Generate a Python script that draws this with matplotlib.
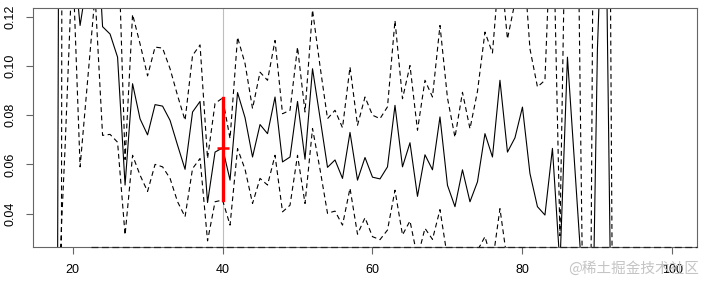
import numpy as np
import matplotlib.pyplot as plt

plt.rcParams['font.family'] = ['Liberation Sans', 'DejaVu Sans']
plt.rcParams['lines.scale_dashes'] = False

# x positions (one point per integer)
x = np.arange(18, 93)

# estimate (solid)
est = [0.018, 1.0, 0.148, 0.1165, 0.136, 0.17, 0.116, 0.113, 0.1036, 0.0516,
       0.0928, 0.0785, 0.072, 0.0843, 0.0837, 0.0779, 0.0678, 0.058, 0.0813, 0.0856,
       0.0445, 0.065, 0.0667, 0.0536, 0.0892, 0.079, 0.063, 0.0762, 0.0725, 0.0874,
       0.061, 0.063, 0.0856, 0.0621, 0.0989, 0.079, 0.0588, 0.0618, 0.0543, 0.073,
       0.0536, 0.0628, 0.0548, 0.0541, 0.059, 0.084, 0.059, 0.0688, 0.047, 0.0639,
       0.0578, 0.0793, 0.0515, 0.0428, 0.0578, 0.0448, 0.0529, 0.0725, 0.063, 0.0942,
       0.065, 0.0708, 0.0833, 0.0563, 0.0428, 0.0394, 0.0665, 0.019, 0.1036, 0.058,
       0.012, -0.074, 0.107, 0.193, -0.05]

# upper band (dashed)
upper = [-1.0, 1.0, 0.3, 0.2, 0.2, 0.3, 0.2, 0.18, 0.16, 0.062,
         0.121, 0.109, 0.096, 0.1077, 0.1073, 0.0989, 0.088, 0.0779, 0.1043, 0.1086,
         0.0624, 0.0848, 0.087, 0.0705, 0.1117, 0.101, 0.0827, 0.0975, 0.0942, 0.1104,
         0.0806, 0.082, 0.1077, 0.0813, 0.1228, 0.1, 0.0786, 0.082, 0.0749, 0.0996,
         0.0759, 0.0874, 0.08, 0.0786, 0.0834, 0.1185, 0.0867, 0.1002, 0.0739, 0.0942,
         0.0874, 0.1165, 0.087, 0.071, 0.0893, 0.0745, 0.0897, 0.1138, 0.1053, 0.143,
         0.111, 0.126, 0.15, 0.107, 0.0915, 0.0942, 0.173, 0.031, 0.214, 0.26,
         0.015, -0.05, 0.43, 0.5, 0.0]

# lower band (dashed)
lower = [0.0, 0.067, 0.144, 0.059, 0.094, 0.129, 0.0718, 0.0722, 0.069, 0.0313,
         0.0637, 0.0556, 0.049, 0.060, 0.059, 0.0543, 0.0448, 0.0387, 0.0583, 0.0624,
         0.0289, 0.0448, 0.0455, 0.0353, 0.0664, 0.058, 0.0441, 0.0543, 0.0516, 0.0637,
         0.0407, 0.0434, 0.0637, 0.0441, 0.0746, 0.058, 0.0401, 0.041, 0.0353, 0.0503,
         0.0316, 0.0383, 0.0306, 0.0294, 0.0333, 0.0495, 0.0313, 0.037, 0.022, 0.034,
         0.0295, 0.0416, 0.022, 0.016, 0.024, 0.018, 0.025, 0.0306, 0.02, 0.042,
         0.02, 0.022, 0.024, 0.01, -0.005, -0.01, -0.03, -0.02, -0.05, -0.1,
         -0.05, -0.2, -0.1, -0.1, -0.2]

x_range = (18, 100)
y_range = (0.03, 0.12)
x_mark = 40

def pad(r):
    d = (r[1] - r[0]) * 0.04
    return r[0] - d, r[1] + d

fig = plt.figure(figsize=(7.01, 2.81), dpi=100)
ax = fig.add_axes([33 / 701, 34 / 281, 664 / 701, 239 / 281])
ax.set_xlim(*pad(x_range))
ax.set_ylim(*pad(y_range))

ax.axvline(x_mark, color='#bebebe', lw=0.8, zorder=1)
ax.plot(x, est, color='black', lw=0.8, zorder=2)
ax.plot(x, upper, color='black', lw=0.8, dashes=(3.5, 2.5), zorder=2)
ax.plot(x, lower, color='black', lw=0.8, dashes=(3.5, 2.5), zorder=2)

i = list(x).index(x_mark)
ax.plot([x_mark, x_mark], [lower[i], upper[i]], color='red', lw=2.4, zorder=3)
ax.plot([x_mark], [est[i]], marker='+', color='red', ms=8, mew=1.8, zorder=4)

# clipped bands running along the bottom edge
ax.hlines(ax.get_ylim()[0], 22.5, ax.get_xlim()[1], colors='#222222', lw=0.9,
          linestyles=(0, (5, 2.5)), zorder=3, clip_on=False)

for s in ax.spines.values():
    s.set_color('#666666')
    s.set_linewidth(0.8)

ax.set_xticks([20, 40, 60, 80, 100])
ax.set_yticks([0.04, 0.06, 0.08, 0.10, 0.12])
ax.set_yticklabels(['0.04', '0.06', '0.08', '0.10', '0.12'])
ax.tick_params(colors='#666666', length=5, width=0.8, labelsize=9, labelcolor='black', pad=7)
for lbl in ax.get_yticklabels():
    lbl.set_rotation(90)
    lbl.set_va('center')

fig.text(0.997, 0.045, '@稀土掘金技术社区', ha='right', va='center', fontsize=10.5,
         color='#c4c4c4', family=['Noto Sans CJK SC', 'DejaVu Sans'])

fig.savefig('out.png', dpi=100)
